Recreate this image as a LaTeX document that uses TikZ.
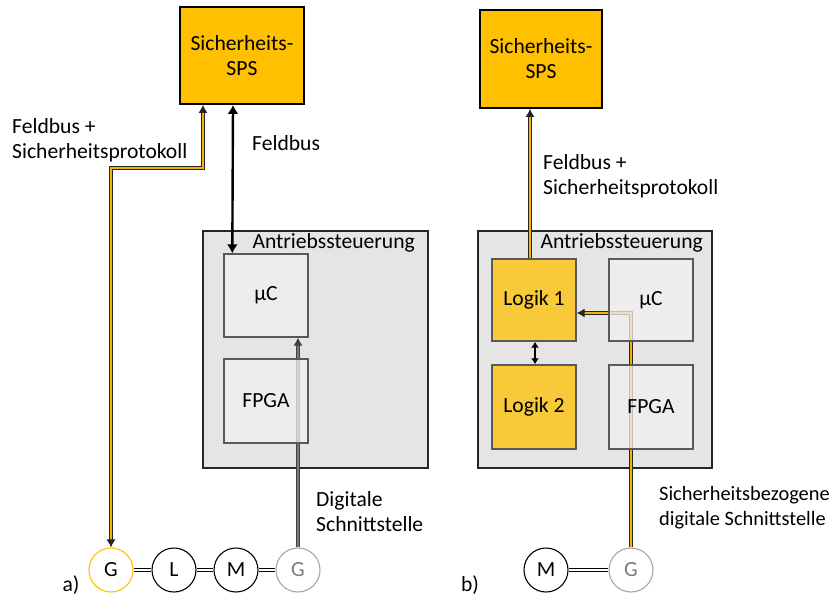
\documentclass[tikz,border=0pt]{standalone}
\usepackage{fontspec}
\setmainfont{Carlito}
\usetikzlibrary{arrows.meta,calc}
\definecolor{spsyellow}{HTML}{FFC000}
\definecolor{ctrlgray}{HTML}{E5E5E5}
\definecolor{ctrledge}{HTML}{262626}
\definecolor{boxfill}{HTML}{F1F1F1}
\definecolor{boxedge}{HTML}{595959}
\definecolor{sigyellow}{HTML}{F2B400}
\definecolor{siggray}{HTML}{7A7A7A}
\definecolor{lightedge}{HTML}{A6A6A6}
\pgfdeclarelayer{back}
\pgfdeclarelayer{wires}
\pgfsetlayers{back,wires,main}
\begin{document}
\begin{tikzpicture}[x=1pt,y=-1pt,
  every node/.style={font=\fontsize{21.6}{25}\selectfont, text=black},
  sps/.style={draw=black, line width=1.8pt, fill=spsyellow, align=center, inner sep=0pt},
  ctrl/.style={draw=ctrledge, line width=2pt, fill=ctrlgray, inner sep=0pt},
  unit/.style={draw=boxedge, line width=1.4pt, fill=boxfill, fill opacity=0.75, text opacity=1,
               minimum width=84pt, inner sep=0pt},
  logic/.style={unit, fill=spsyellow},
  wheel/.style={circle, draw=black, line width=1.1pt, minimum size=44pt, inner sep=0pt, fill=white},
  ywire/.style={draw=black!85, line width=1pt, double=sigyellow, double distance=2.4pt},
  gwire/.style={draw=black!75, line width=1pt, double=siggray, double distance=2.4pt},
  bwire/.style={draw=black, line width=2.4pt},
  shaft/.style={draw=black, line width=0.9pt, double=white, double distance=2.2pt},
  tipy/.style={-{Latex[length=8pt,width=9pt]}},
  tipb/.style={{Latex[length=9pt,width=11pt]}-{Latex[length=9pt,width=11pt]}},
  lbl/.style={anchor=west, align=left, inner sep=0pt}
]
\useasboundingbox (0,0) rectangle (838,598);

% ---------- a) ----------
\node[sps, minimum width=124pt, minimum height=97pt] (spsA) at (242,55.5) {Sicherheits-\\SPS};
\begin{pgfonlayer}{back}
  \node[ctrl, minimum width=225pt, minimum height=237pt] (ctrlA) at (315.5,349.5) {};
\end{pgfonlayer}
\node[anchor=east, inner sep=0pt] (ctrlAlbl) at (415,243) {Antriebssteuerung};
\node[unit, minimum height=83pt] (ucA) at (266,295.5) {µC};
\node[unit, minimum height=84pt] (fpgaA) at (266,401) {FPGA};

\node[wheel, draw=spsyellow] (gA1) at (111,570) {G};
\node[wheel] (lA) at (174,570) {L};
\node[wheel] (mA) at (236,570) {M};
\node[wheel, draw=lightedge, text=siggray] (gA4) at (298,570) {G};

\node[lbl] (fbpA) at (12,140) {Feldbus +\\Sicherheitsprotokoll};
\node[lbl] (fbA) at (252,143) {Feldbus};
\node[lbl] (digA) at (316,512) {Digitale\\Schnittstelle};
\node[inner sep=0pt] (tagA) at (71,585) {a)};

\coordinate (bendA) at (203,168);
\begin{pgfonlayer}{wires}
  \draw[ywire, {Latex[length=8pt,width=9pt]}-{Latex[length=8pt,width=9pt]}]
    (bendA |- spsA.south) -- (bendA) -| (gA1.north);
  \draw[bwire, tipb] ([xshift=-9pt]spsA.south) -- ([xshift=9pt]ucA.north west);
  \draw[gwire, tipy] (gA4.north) -- (gA4.north |- ucA.south);
\end{pgfonlayer}
\draw[shaft] (gA1.east) -- (lA.west);
\draw[shaft] (lA.east) -- (mA.west);
\draw[shaft] (mA.east) -- (gA4.west);

% ---------- b) ----------
\node[sps, minimum width=122pt, minimum height=98pt] (spsB) at (541,59) {Sicherheits-\\SPS};
\begin{pgfonlayer}{back}
  \node[ctrl, minimum width=234pt, minimum height=237pt] (ctrlB) at (595,349.5) {};
\end{pgfonlayer}
\node[anchor=east, inner sep=0pt] (ctrlBlbl) at (703,243) {Antriebssteuerung};
\node[logic, minimum height=82pt] (log1) at (534,300) {Logik 1};
\node[logic, minimum height=84pt] (log2) at (534,407) {Logik 2};
\node[unit, minimum height=82pt] (ucB) at (651,300) {µC};
\node[unit, minimum height=84pt] (fpgaB) at (651,407) {FPGA};

\node[wheel] (mB) at (546,570) {M};
\node[wheel, draw=lightedge, text=siggray] (gB) at (631,570) {G};

\node[lbl] (fbpB) at (543,176) {Feldbus +\\Sicherheitsprotokoll};
\node[lbl, font=\fontsize{20.4}{25}\selectfont] (digB) at (659,508) {Sicherheitsbezogene\\digitale Schnittstelle};
\node[inner sep=0pt] (tagB) at (470,585) {b)};

\coordinate (bendB) at (631,313);
\begin{pgfonlayer}{wires}
  \draw[ywire, tipy] ([xshift=-4pt]log1.north) -- ([xshift=-4pt]log1.north |- spsB.south);
  \draw[ywire, tipy] (gB.north) -- (bendB) -- (bendB -| log1.east);
\end{pgfonlayer}
\draw[line width=1.6pt, {Latex[length=6pt,width=8pt]}-{Latex[length=6pt,width=8pt]}]
  ([xshift=1pt]log1.south) -- ([xshift=1pt]log2.north);
\draw[shaft] (mB.east) -- (gB.west);
\end{tikzpicture}
\end{document}
